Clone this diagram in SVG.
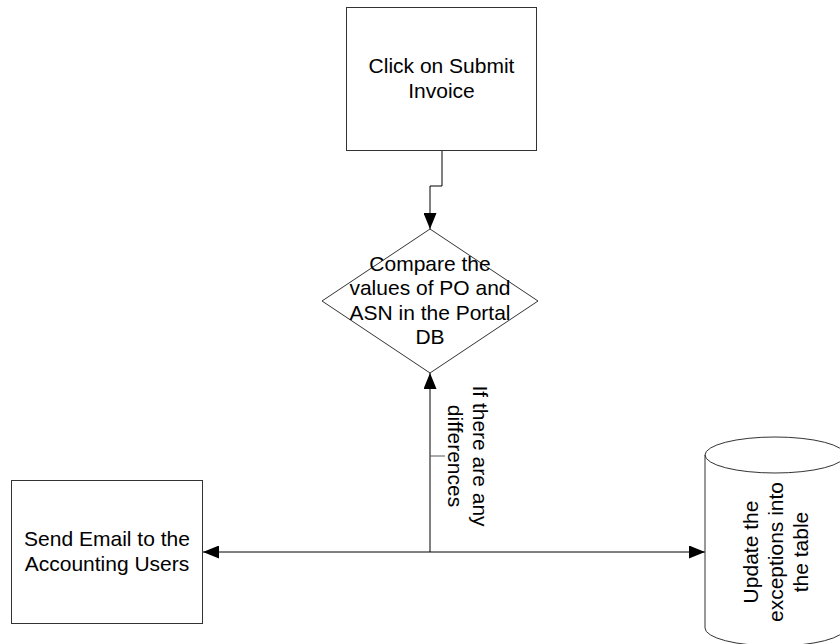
<svg xmlns="http://www.w3.org/2000/svg" width="840" height="644" viewBox="0 0 840 644">
<style>
.box{fill:#fff;stroke:#333;stroke-width:1}
.t{font-family:"Liberation Sans",Arial,sans-serif;font-size:21px;fill:#000;text-anchor:middle}
.c{fill:none;stroke:#000;stroke-width:1}
</style>
<defs>
<marker id="ah" markerUnits="userSpaceOnUse" markerWidth="16" markerHeight="13" refX="16" refY="6.5" orient="auto-start-reverse">
<path d="M0,0 L16,6.5 L0,13 z" fill="#000"/>
</marker>
</defs>
<rect width="840" height="644" fill="#fff"/>
<g id="connectors">
<path class="c" d="M442,150.5 V186 H430 V229" marker-end="url(#ah)"/>
<path class="c" d="M430,552 V373" marker-end="url(#ah)"/>
<path class="c" d="M203,552 H705" marker-start="url(#ah)" marker-end="url(#ah)"/>
<path d="M430,456 H445" stroke="#555" stroke-width="1" fill="none"/>
<text class="t" transform="translate(460,456) rotate(90)"><tspan x="0" y="-13">If there are any</tspan><tspan x="0" y="12">differences</tspan></text>
</g>
<g id="submit">
<rect class="box" x="346.5" y="7.5" width="190" height="143"/>
<text class="t"><tspan x="441.5" y="73">Click on Submit</tspan><tspan x="441.5" y="97.5">Invoice</tspan></text>
</g>
<g id="compare">
<path class="box" d="M430,229 L538,301 L430,373 L322,301 Z"/>
<text class="t"><tspan x="430" y="271">Compare the</tspan><tspan x="430" y="295.4">values of PO and</tspan><tspan x="430" y="319.7">ASN in the Portal</tspan><tspan x="430" y="344">DB</tspan></text>
</g>
<g id="email">
<rect class="box" x="11.5" y="480.5" width="191" height="143"/>
<text class="t"><tspan x="107" y="546">Send Email to the</tspan><tspan x="107" y="570.5">Accounting Users</tspan></text>
</g>
<g id="update">
<path class="box" d="M705,455 A70,18 0 0 1 845,455 V628 A70,18 0 0 1 705,628 Z"/>
<path d="M705,455 A70,18 0 0 0 845,455" fill="none" stroke="#333" stroke-width="1"/>
<text class="t" transform="translate(785,552) rotate(-90)"><tspan x="0" y="-27">Update the</tspan><tspan x="0" y="-2">exceptions into</tspan><tspan x="0" y="23">the table</tspan></text>
</g>
</svg>
